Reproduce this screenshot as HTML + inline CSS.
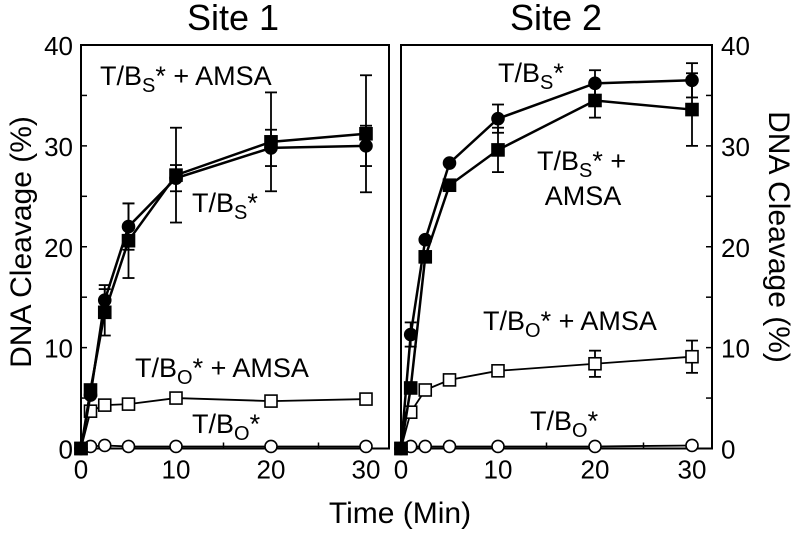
<!DOCTYPE html>
<html><head><meta charset="utf-8"><style>
html,body{margin:0;padding:0;background:#fff;}
svg{display:block;font-family:"Liberation Sans",Arial,sans-serif;}
</style></head><body>
<svg id="chart" width="800" height="533" viewBox="0 0 800 533">
<g id="root"></g>
</svg>
<script>
const times = [0, 1, 2.5, 5, 10, 20, 30];
const xTicks = [0, 10, 20, 30];
const yTicks = [0, 10, 20, 30, 40];
// Site 1
const s1BsAmsa = [0, 5.8, 13.5, 20.6, 27.1, 30.4, 31.2];
const s1BsAmsaErr = [0, 0.5, 2.3, 3.7, 4.7, 4.9, 5.8];
const s1Bs = [0, 5.3, 14.7, 22.0, 26.8, 29.8, 30.0];
const s1BsErr = [0, 0.5, 1.5, 2.3, 1.3, 1.8, 2.0];
const s1BoAmsa = [0, 3.7, 4.3, 4.4, 5.0, 4.7, 4.9];
const s1Bo = [0, 0.2, 0.3, 0.2, 0.2, 0.2, 0.2];
// Site 2
const s2BsAmsa = [0, 6.0, 19.0, 26.1, 29.6, 34.5, 33.6];
const s2BsAmsaErr = [0, 0.3, 0.4, 0.3, 2.2, 1.7, 3.6];
const s2Bs = [0, 11.3, 20.7, 28.3, 32.7, 36.2, 36.5];
const s2BsErr = [0, 1.2, 0.3, 0.3, 1.4, 1.3, 1.7];
const s2BoAmsa = [0, 3.6, 5.8, 6.8, 7.7, 8.4, 9.1];
const s2BoAmsaErr = [0, 0.3, 0.3, 0.3, 0.3, 1.3, 1.6];
const s2Bo = [0, 0.2, 0.2, 0.2, 0.2, 0.2, 0.3];

const NS = "http://www.w3.org/2000/svg";
const root = document.getElementById("root");
function mk(tag, attrs, parent, text) {
  const e = document.createElementNS(NS, tag);
  for (const k in attrs) e.setAttribute(k, attrs[k]);
  if (text !== undefined) e.textContent = text;
  (parent || root).appendChild(e);
  return e;
}
const yTop = 45, yBot = 448.5;
function yScale(v) { return yBot - (v / 40) * (yBot - yTop); }

function panel(name, x0, x30, right, left, seriesList) {
  const g = mk("g", {});
  
  
  const xs = v => x0 + (v / 30) * (x30 - x0);
  const frame = mk("rect", {x: left, y: yTop, width: right - left, height: yBot - yTop, fill: "none", stroke: "#000", "stroke-width": 2}, g);
  
  
  [0,5,10,15,20,25,30].forEach(t => {
    mk("line", {x1: xs(t), x2: xs(t), y1: yBot, y2: yBot - 6, stroke: "#000", "stroke-width": 1.5}, g);
  });
  xTicks.forEach(t => {
    const lb = mk("text", {x: xs(t), y: yBot + 30, "font-size": 26, "text-anchor": "middle"}, g, String(t));
    
    
  });
  seriesList.forEach(s => {
    const sg = mk("g", {}, g);
    
    
    const pts = s.vals.map((v, i) => xs(times[i]) + "," + yScale(v)).join(" ");
    mk("polyline", {points: pts, fill: "none", stroke: "#000", "stroke-width": s.lw}, sg);
    s.vals.forEach((v, i) => {
      const cx = xs(times[i]), cy = yScale(v);
      if (s.err && s.err[i] > 0.6) {
        const e = s.err[i];
        mk("line", {x1: cx, x2: cx, y1: yScale(v - e), y2: yScale(v + e), stroke: "#000", "stroke-width": 1.8}, sg);
        mk("line", {x1: cx - 6, x2: cx + 6, y1: yScale(v - e), y2: yScale(v - e), stroke: "#000", "stroke-width": 1.8}, sg);
        mk("line", {x1: cx - 6, x2: cx + 6, y1: yScale(v + e), y2: yScale(v + e), stroke: "#000", "stroke-width": 1.8}, sg);
      }
      let m;
      if (s.shape === "circle") m = mk("circle", {cx, cy, r: 6, fill: s.fill, stroke: "#000", "stroke-width": 1.6}, sg);
      else m = mk("rect", {x: cx - 6, y: cy - 6, width: 12, height: 12, fill: s.fill, stroke: "#000", "stroke-width": 1.6}, sg);
      
      
    });
  });
  return {g, xs};
}

function label(x, y, main, sub, rest, anchor) {
  const t = mk("text", {x, y, "font-size": 27, "text-anchor": anchor || "start"});
  
  
  mk("tspan", {}, t, main);
  mk("tspan", {"font-size": 20, dy: 7}, t, sub);
  mk("tspan", {dy: -7}, t, rest);
  return t;
}

panel("site1-panel", 81, 366, 389, 81, [
  {name: "s1-bo", vals: s1Bo, shape: "circle", fill: "#fff", lw: 1.8},
  {name: "s1-bo-amsa", vals: s1BoAmsa, shape: "rect", fill: "#fff", lw: 1.8},
  {name: "s1-bs-amsa", vals: s1BsAmsa, err: s1BsAmsaErr, shape: "rect", fill: "#000", lw: 2.5},
  {name: "s1-bs", vals: s1Bs, err: s1BsErr, shape: "circle", fill: "#000", lw: 2.5}
]);
panel("site2-panel", 401, 692, 712, 401, [
  {name: "s2-bo", vals: s2Bo, shape: "circle", fill: "#fff", lw: 1.8},
  {name: "s2-bo-amsa", vals: s2BoAmsa, err: s2BoAmsaErr, shape: "rect", fill: "#fff", lw: 1.8},
  {name: "s2-bs-amsa", vals: s2BsAmsa, err: s2BsAmsaErr, shape: "rect", fill: "#000", lw: 2.5},
  {name: "s2-bs", vals: s2Bs, err: s2BsErr, shape: "circle", fill: "#000", lw: 2.5}
]);

[0,5,10,15,20,25,30,35,40].forEach(t => {
  mk("line", {x1: 81, x2: 87, y1: yScale(t), y2: yScale(t), stroke: "#000", "stroke-width": 1.5});
  mk("line", {x1: 712, x2: 706, y1: yScale(t), y2: yScale(t), stroke: "#000", "stroke-width": 1.5});
});
yTicks.forEach(t => {
  const a = mk("text", {x: 73, y: yScale(t) + 10, "font-size": 26, "text-anchor": "end"}, root, String(t));
  
  
  const b = mk("text", {x: 721, y: yScale(t) + 10, "font-size": 26, "text-anchor": "start"}, root, String(t));
  
  
});

const t1 = mk("text", {x: 233, y: 30, "font-size": 36, "text-anchor": "middle"}, root, "Site 1");
 
const t2 = mk("text", {x: 556, y: 30, "font-size": 36, "text-anchor": "middle"}, root, "Site 2");
 
const xt = mk("text", {x: 400, y: 523, "font-size": 30, "text-anchor": "middle"}, root, "Time (Min)");
 
const yl = mk("text", {x: 0, y: 0, "font-size": 30, "text-anchor": "middle", transform: "translate(31,242) rotate(-90)"}, root, "DNA Cleavage (%)");
 
const yr = mk("text", {x: 0, y: 0, "font-size": 30, "text-anchor": "middle", transform: "translate(769,237) rotate(90)"}, root, "DNA Cleavage (%)");
 

label(100, 85, "T/B", "S", "* + AMSA");
label(192, 212, "T/B", "S", "*");
label(135, 377, "T/B", "O", "* + AMSA");
label(192, 433, "T/B", "O", "*");
label(498, 82, "T/B", "S", "*");
label(537, 170, "T/B", "S", "* +");
const am = mk("text", {x: 583, y: 205, "font-size": 27, "text-anchor": "middle"}, root, "AMSA");
 
label(483, 330, "T/B", "O", "* + AMSA");
label(530, 430, "T/B", "O", "*");
</script>
</body></html>
